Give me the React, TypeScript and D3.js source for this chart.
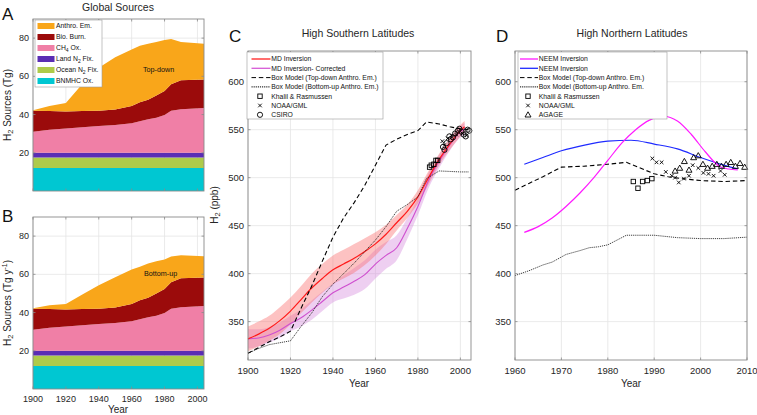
import React from 'react';
import * as d3 from 'd3';

const FONT = "'Liberation Sans', Arial, Helvetica, sans-serif";

// ---------- Panels A / B : global H2 sources (Tg / yr) ----------
const srcYears = [1900, 1910, 1920, 1930, 1940, 1950, 1960, 1965, 1970, 1975, 1980, 1984, 1990, 2004];
const bnmhcOx = [12, 12, 12, 12, 12, 12, 12, 12, 12, 12, 12, 12, 12, 12];
const oceanN2Fix = [5.5, 5.5, 5.5, 5.5, 5.5, 5.5, 5.5, 5.5, 5.5, 5.5, 5.5, 5.5, 5.5, 5.5];
const landN2Fix = [2.5, 2.5, 2.5, 2.5, 2.5, 2.5, 2.5, 2.5, 2.5, 2.5, 2.5, 2.5, 2.5, 2.5];
const ch4Ox = [11, 12, 12.7, 13.4, 14, 14.6, 15.5, 16.5, 17.5, 18.3, 19.8, 22, 22.8, 23.4];
const bioBurn = [11, 9.8, 8.9, 8.4, 8, 8, 9, 10, 10.3, 11.7, 12.5, 13.8, 15.2, 15];
const anthroTopDown = [0.3, 2.7, 4.4, 14.2, 22.5, 27.4, 29.5, 29.5, 29.2, 28, 26.7, 23.7, 20, 18.6];
const anthroBottomUp = [0.3, 2, 2.9, 7.7, 12.3, 15.9, 18, 17.5, 17.9, 16.8, 15.5, 13.5, 12, 11];

const srcKeys = ['bnmhc', 'ocean', 'land', 'ch4', 'bio', 'anthro'];
const srcColors: Record<string, string> = {
  anthro: '#F9A61A',
  bio: '#9B0B0B',
  ch4: '#F07FA6',
  land: '#5A2DB4',
  ocean: '#AECB4A',
  bnmhc: '#00C7D2',
};
const srcLegend = [
  { key: 'anthro', label: ['Anthro. Em.'] },
  { key: 'bio', label: ['Bio. Burn.'] },
  { key: 'ch4', label: ['CH', '4', ' Ox.'] },
  { key: 'land', label: ['Land N', '2', ' Fix.'] },
  { key: 'ocean', label: ['Ocean N', '2', ' Fix.'] },
  { key: 'bnmhc', label: ['BNMHC Ox.'] },
];
const abXTicks = [1900, 1920, 1940, 1960, 1980, 2000];
const abYTicks = [20, 40, 60, 80];

// ---------- Panel C : high southern latitudes (ppb) ----------
const cYears = [1900, 1905, 1910, 1915, 1920, 1925, 1930, 1935, 1940, 1945, 1950, 1955, 1960, 1965, 1970, 1975, 1980, 1985, 1990, 1995, 2000, 2002];
const mdInversion = [332, 337, 343, 351, 361, 373, 385, 395, 404, 410, 416, 423, 431, 441, 453, 465, 480, 500, 519, 535, 549, 553];
const mdInversionUnc = [13, 13, 13, 14, 14, 14, 15, 15, 15, 15, 15, 14, 12, 10, 8, 7, 7, 7, 6, 6, 6, 6];
const mdCorrected = [332, 333, 336, 341, 348, 354, 362, 371, 380, 386, 392, 399, 410, 419, 427, 447, 470, 497, 517, 534, 548, 551];
const mdCorrectedUnc = [10, 9, 8, 8, 8, 9, 10, 10, 10, 12, 14, 15, 15, 14, 13, 11, 9, 8, 7, 6, 6, 6];
const cBoxYears = [1900, 1905, 1910, 1915, 1920, 1925, 1930, 1935, 1940, 1945, 1950, 1955, 1960, 1965, 1970, 1975, 1980, 1984, 1990, 1995, 2000, 2004];
const cBoxTopDown = [317, 323, 329, 334, 340, 364, 387, 413, 438, 458, 474, 492, 513, 534, 540, 545, 549, 558, 556, 553, 551, 550];
const cBoxBottomUp = [317, 322, 326, 328, 330, 345, 359, 376, 389, 400, 411, 423, 435, 449, 465, 472, 480, 499, 507, 506.5, 506, 506];
const cKhalilYears = [1985.5, 1986.3, 1987.5, 1988.5, 1989.3];
const cKhalilVals = [511, 513, 514, 518, 518];
const cNoaaYears = [1991.5, 1992.5, 1994, 1996, 1998, 2001, 2003];
const cNoaaVals = [538, 534, 541, 544, 545, 546, 544];
const cCsiroYears = [1991.8, 1992.5, 1993.5, 1994.8, 1995.5, 1996.5, 1997.5, 1998.8, 1999.5, 2000.5, 2001.5, 2002.5, 2003.4, 2004.2];
const cCsiroVals = [532, 529, 536, 543, 540, 542, 546, 549, 551, 548, 545, 543, 550, 549];

// ---------- Panel D : high northern latitudes (ppb) ----------
const dNeemYears1 = [1962, 1965, 1968, 1971, 1974, 1977, 1980, 1983, 1986, 1989, 1992, 1995, 1998, 2001, 2004, 2006, 2008];
const dNeem1 = [443, 449, 458, 470, 484, 500, 518, 536, 550, 560, 564, 559, 545, 527, 512, 509, 508];
const dNeemYears2 = [1962, 1966, 1970, 1975, 1980, 1985, 1990, 1995, 2000, 2005, 2008];
const dNeem2 = [514, 521, 528, 534, 538, 539, 535, 530, 521, 513, 509];
const dTdYears = [1960, 1963, 1966, 1970, 1975, 1980, 1984, 1987, 1990, 1993, 1996, 2000, 2005, 2010];
const dBoxTopDown = [487, 494, 501, 511, 512, 514, 516, 510, 504, 501, 499, 497, 496, 497];
const dBuYears = [1960, 1963, 1966, 1968, 1971, 1974, 1976, 1978, 1980, 1982, 1984, 1990, 1995, 2000, 2005, 2010];
const dBoxBottomUp = [398, 403, 409, 412, 420, 424, 427, 428, 430, 435, 440, 440, 437.5, 436.5, 436.5, 438];
const dKhalilYears = [1985.5, 1986.5, 1987.5, 1988.5, 1989.5];
const dKhalilVals = [496, 489, 496, 497, 499];
const dNoaaYears = [1989.6, 1990.5, 1991.6, 1992.5, 1993.8, 1994.5, 1995.3, 1996.4, 1997.5, 1998.3, 1999.5, 2000.6, 2001.7, 2002.8, 2004.3, 2005.2];
const dNoaaVals = [520, 516, 516, 506, 502, 500, 495, 499, 502, 513, 510, 505, 504, 502, 507, 503];
const dAgageYears = [1994.5, 1995.5, 1996.5, 1997.5, 1998.5, 1999.5, 2000.5, 2001.5, 2002.5, 2003.5, 2004.5, 2005.5, 2006.5, 2007.5, 2008.5, 2009.5];
const dAgageVals = [507, 510, 517, 508, 521, 523, 514, 510, 512, 514, 512, 514, 516, 512, 515, 511];

const cxTicks = [1900, 1920, 1940, 1960, 1980, 2000];
const dxTicks = [1960, 1970, 1980, 1990, 2000, 2010];
const ppbTicks = [350, 400, 450, 500, 550, 600];

const AXIS = '#8a8a8a';
const GRID = '#e4e4e4';
const TXT = '#262626';

type Sc = d3.ScaleLinear<number, number>;

function Grid({ x, y, xTicks, yTicks }: { x: Sc; y: Sc; xTicks: number[]; yTicks: number[] }) {
  const [x0, x1] = x.range();
  const [y0, y1] = y.range();
  return (
    <g>
      {xTicks.map((t) => (
        <line key={'gx' + t} x1={x(t)} x2={x(t)} y1={y0} y2={y1} stroke={GRID} strokeWidth={0.8} />
      ))}
      {yTicks.map((t) => (
        <line key={'gy' + t} x1={x0} x2={x1} y1={y(t)} y2={y(t)} stroke={GRID} strokeWidth={0.8} />
      ))}
    </g>
  );
}

function Axes({ x, y, xTicks, yTicks, xLabels, fs, xLabelY }: { x: Sc; y: Sc; xTicks: number[]; yTicks: number[]; xLabels: boolean; fs: number; xLabelY: number }) {
  const [x0, x1] = x.range();
  const [y0, y1] = y.range();
  return (
    <g fontFamily={FONT}>
      <rect x={x0} y={y1} width={x1 - x0} height={y0 - y1} fill="none" stroke={AXIS} strokeWidth={0.9} />
      {xTicks.map((t) => (
        <g key={'tx' + t}>
          <line x1={x(t)} x2={x(t)} y1={y0} y2={y0 - 2.5} stroke={AXIS} strokeWidth={0.8} />
          <line x1={x(t)} x2={x(t)} y1={y1} y2={y1 + 2.5} stroke={AXIS} strokeWidth={0.8} />
          {xLabels && (
            <text x={x(t)} y={xLabelY} textAnchor="middle" fontSize={fs} fill={TXT}>
              {t}
            </text>
          )}
        </g>
      ))}
      {yTicks.map((t) => (
        <g key={'ty' + t}>
          <line x1={x0} x2={x0 + 2.5} y1={y(t)} y2={y(t)} stroke={AXIS} strokeWidth={0.8} />
          <line x1={x1} x2={x1 - 2.5} y1={y(t)} y2={y(t)} stroke={AXIS} strokeWidth={0.8} />
          <text x={x0 - 4} y={y(t)} dy="0.35em" textAnchor="end" fontSize={fs} fill={TXT}>
            {t}
          </text>
        </g>
      ))}
    </g>
  );
}

function SourcesPanel({ top, anthro, label, labelX, labelY, legend }: { top: number; anthro: number[]; label: string; labelX: number; labelY: number; legend: boolean }) {
  const x = d3.scaleLinear().domain([1900, 2004]).range([33, 204]);
  const y = d3.scaleLinear().domain([0, 90]).range([top + 172, top]);
  const rows = srcYears.map((yr, i) => ({
    year: yr,
    bnmhc: bnmhcOx[i],
    ocean: oceanN2Fix[i],
    land: landN2Fix[i],
    ch4: ch4Ox[i],
    bio: bioBurn[i],
    anthro: anthro[i],
  }));
  const series = d3.stack<any>().keys(srcKeys)(rows);
  const area = d3
    .area<any>()
    .x((d) => x(d.data.year))
    .y0((d) => y(d[0]))
    .y1((d) => y(d[1]));
  return (
    <g>
      <Grid x={x} y={y} xTicks={abXTicks} yTicks={abYTicks} />
      {series.map((s) => (
        <path key={s.key} d={area(s) || ''} fill={srcColors[s.key]} stroke="none" />
      ))}
      <Axes x={x} y={y} xTicks={abXTicks} yTicks={abYTicks} xLabels={!legend} fs={9} xLabelY={402} />
      <text x={labelX} y={labelY} fontFamily={FONT} fontSize={7.2} fill="#111">
        {label}
      </text>
      {legend && (
        <g fontFamily={FONT}>
          <rect x={35} y={20} width={67} height={67} fill="#fff" stroke="#9a9a9a" strokeWidth={0.6} />
          {srcLegend.map((e, i) => {
            const cy = 26 + i * 11;
            return (
              <g key={e.key}>
                <rect x={37.5} y={cy - 3} width={17} height={6} fill={srcColors[e.key]} />
                <text x={56} y={cy} dy="0.35em" fontSize={6.8} fill="#111">
                  {e.label[0]}
                  {e.label.length > 1 && (
                    <tspan fontSize={5} dy="1.8">
                      {e.label[1]}
                    </tspan>
                  )}
                  {e.label.length > 2 && <tspan dy="-1.8">{e.label[2]}</tspan>}
                </text>
              </g>
            );
          })}
        </g>
      )}
    </g>
  );
}

function Marker({ kind, cx, cy }: { kind: string; cx: number; cy: number }) {
  const s = 2.2;
  if (kind === 'square')
    return <rect x={cx - s} y={cy - s} width={2 * s} height={2 * s} fill="none" stroke="#000" strokeWidth={0.9} />;
  if (kind === 'circle') return <circle cx={cx} cy={cy} r={2.6} fill="none" stroke="#000" strokeWidth={0.9} />;
  if (kind === 'x')
    return (
      <path d={`M${cx - 1.8},${cy - 1.8}L${cx + 1.8},${cy + 1.8}M${cx - 1.8},${cy + 1.8}L${cx + 1.8},${cy - 1.8}`} stroke="#000" strokeWidth={0.9} />
    );
  return <path d={`M${cx},${cy - 3}L${cx + 3},${cy + 2.2}L${cx - 3},${cy + 2.2}Z`} fill="none" stroke="#000" strokeWidth={0.9} />;
}

const ppbDomain = [310, 632];

function lineOf(x: Sc, y: Sc, xs: number[], ys: number[], curve: any) {
  return (
    d3
      .line<number>()
      .x((_, i) => x(xs[i]))
      .y((v) => y(v))
      .curve(curve)(ys) || ''
  );
}

function bandOf(x: Sc, y: Sc, xs: number[], ys: number[], err: number[]) {
  return (
    d3
      .area<number>()
      .x((_, i) => x(xs[i]))
      .y0((v, i) => y(v - err[i]))
      .y1((v, i) => y(v + err[i]))
      .curve(d3.curveMonotoneX)(ys) || ''
  );
}

const DASH = '4.5,2.8';
const DOT = '1.2,0.9';

function LegendEntry({ x, y, kind, color, dash, text, width }: any) {
  return (
    <g>
      {kind === 'line' ? (
        <line x1={x} x2={x + width} y1={y} y2={y} stroke={color} strokeWidth={dash ? 1 : 1.3} strokeDasharray={dash || undefined} />
      ) : (
        <Marker kind={kind} cx={x + width / 2 - 1} cy={y} />
      )}
      <text x={x + width + 0.8} y={y} dy="0.35em" fontSize={6.8} fill="#111" fontFamily={FONT}>
        {text}
      </text>
    </g>
  );
}

function PanelC() {
  const x = d3.scaleLinear().domain([1900, 2005]).range([248, 471]);
  const y = d3.scaleLinear().domain(ppbDomain).range([360, 51]);
  const legendRows = [
    { kind: 'line', color: '#ff2020', text: 'MD Inversion' },
    { kind: 'line', color: '#d65bd6', text: 'MD Inversion- Corrected' },
    { kind: 'line', color: '#000', dash: DASH, text: 'Box Model (Top-down Anthro. Em.)' },
    { kind: 'line', color: '#000', dash: DOT, text: 'Box Model (Bottom-up Anthro. Em.)' },
    { kind: 'square', text: 'Khalil & Rasmussen' },
    { kind: 'x', text: 'NOAA/GML' },
    { kind: 'circle', text: 'CSIRO' },
  ];
  return (
    <g>
      <Grid x={x} y={y} xTicks={cxTicks} yTicks={ppbTicks} />
      <path d={bandOf(x, y, cYears, mdCorrected, mdCorrectedUnc)} fill="rgba(214,140,222,0.42)" />
      <path d={bandOf(x, y, cYears, mdInversion, mdInversionUnc)} fill="rgba(250,110,110,0.42)" />
      <path d={lineOf(x, y, cYears, mdCorrected, d3.curveMonotoneX)} fill="none" stroke="#cf4fcf" strokeWidth={1.1} />
      <path d={lineOf(x, y, cYears, mdInversion, d3.curveMonotoneX)} fill="none" stroke="#ff1a1a" strokeWidth={1.2} />
      <path d={lineOf(x, y, cBoxYears, cBoxTopDown, d3.curveLinear)} fill="none" stroke="#000" strokeWidth={1.1} strokeDasharray={DASH} />
      <path d={lineOf(x, y, cBoxYears, cBoxBottomUp, d3.curveLinear)} fill="none" stroke="#111" strokeWidth={0.8} strokeDasharray={DOT} />
      {cKhalilYears.map((yr, i) => (
        <Marker key={'k' + i} kind="square" cx={x(yr)} cy={y(cKhalilVals[i])} />
      ))}
      {cNoaaYears.map((yr, i) => (
        <Marker key={'n' + i} kind="x" cx={x(yr)} cy={y(cNoaaVals[i])} />
      ))}
      {cCsiroYears.map((yr, i) => (
        <Marker key={'c' + i} kind="circle" cx={x(yr)} cy={y(cCsiroVals[i])} />
      ))}
      <Axes x={x} y={y} xTicks={cxTicks} yTicks={ppbTicks} xLabels fs={9.5} xLabelY={374} />
      <rect x={247} y={52} width={136} height={67} fill="#fff" stroke="#9a9a9a" strokeWidth={0.6} />
      {legendRows.map((r, i) => (
        <LegendEntry key={i} x={251.5} y={59 + i * 9.3} width={19} {...r} />
      ))}
    </g>
  );
}

function PanelD() {
  const x = d3.scaleLinear().domain([1960, 2010]).range([515, 747]);
  const y = d3.scaleLinear().domain(ppbDomain).range([360, 51]);
  const legendRows = [
    { kind: 'line', color: '#ff1aff', text: 'NEEM Inversion' },
    { kind: 'line', color: '#1f2bff', text: 'NEEM Inversion' },
    { kind: 'line', color: '#000', dash: DASH, text: 'Box Model (Top-down Anthro. Em.)' },
    { kind: 'line', color: '#000', dash: DOT, text: 'Box Model (Bottom-up Anthro. Em.' },
    { kind: 'square', text: 'Khalil & Rasmussen' },
    { kind: 'x', text: 'NOAA/GML' },
    { kind: 'tri', text: 'AGAGE' },
  ];
  return (
    <g>
      <Grid x={x} y={y} xTicks={dxTicks} yTicks={ppbTicks} />
      <path d={lineOf(x, y, dTdYears, dBoxTopDown, d3.curveLinear)} fill="none" stroke="#000" strokeWidth={1.1} strokeDasharray={DASH} />
      <path d={lineOf(x, y, dBuYears, dBoxBottomUp, d3.curveLinear)} fill="none" stroke="#111" strokeWidth={0.8} strokeDasharray={DOT} />
      <path d={lineOf(x, y, dNeemYears2, dNeem2, d3.curveMonotoneX)} fill="none" stroke="#1f2bff" strokeWidth={1.2} />
      <path d={lineOf(x, y, dNeemYears1, dNeem1, d3.curveMonotoneX)} fill="none" stroke="#ff1aff" strokeWidth={1.2} />
      {dKhalilYears.map((yr, i) => (
        <Marker key={'k' + i} kind="square" cx={x(yr)} cy={y(dKhalilVals[i])} />
      ))}
      {dNoaaYears.map((yr, i) => (
        <Marker key={'n' + i} kind="x" cx={x(yr)} cy={y(dNoaaVals[i])} />
      ))}
      {dAgageYears.map((yr, i) => (
        <Marker key={'a' + i} kind="tri" cx={x(yr)} cy={y(dAgageVals[i])} />
      ))}
      <Axes x={x} y={y} xTicks={dxTicks} yTicks={ppbTicks} xLabels fs={9.5} xLabelY={374} />
      <rect x={518} y={52} width={149} height={67} fill="#fff" stroke="#9a9a9a" strokeWidth={0.6} />
      {legendRows.map((r, i) => (
        <LegendEntry key={i} x={520} y={59 + i * 9.3} width={18} {...r} />
      ))}
    </g>
  );
}

export default function App() {
  return (
    <svg width={757} height={415} style={{ position: 'absolute', left: 0, top: 0, background: '#fff' }} fontFamily={FONT}>
      <rect width={757} height={415} fill="#fff" />
      <SourcesPanel top={19} anthro={anthroTopDown} label="Top-down" labelX={143} labelY={72} legend />
      <SourcesPanel top={217} anthro={anthroBottomUp} label="Bottom-up" labelX={144} labelY={276} legend={false} />
      <PanelC />
      <PanelD />

      {/* panel letters */}
      <text x={2} y={20} fontSize={17} fill="#111">A</text>
      <text x={2} y={222} fontSize={17} fill="#111">B</text>
      <text x={229} y={42} fontSize={17} fill="#111">C</text>
      <text x={496} y={42} fontSize={17} fill="#111">D</text>

      {/* titles */}
      <text x={118} y={11} textAnchor="middle" fontSize={10.5} fill={TXT}>Global Sources</text>
      <text x={358} y={37} textAnchor="middle" fontSize={10.5} fill={TXT}>High Southern Latitudes</text>
      <text x={632} y={37} textAnchor="middle" fontSize={10.5} fill={TXT}>High Northern Latitudes</text>

      {/* axis labels */}
      <text transform="translate(11,105) rotate(-90)" textAnchor="middle" fontSize={10} fill={TXT}>
        H<tspan fontSize={7.5} dy={2}>2</tspan><tspan dy={-2}> Sources (Tg)</tspan>
      </text>
      <text transform="translate(11,303) rotate(-90)" textAnchor="middle" fontSize={10} fill={TXT}>
        H<tspan fontSize={7.5} dy={2}>2</tspan><tspan dy={-2}> Sources (Tg y</tspan><tspan fontSize={7} dy={-4}>-1</tspan><tspan dy={4}>)</tspan>
      </text>
      <text transform="translate(218,205) rotate(-90)" textAnchor="middle" fontSize={10} fill={TXT}>
        H<tspan fontSize={7.5} dy={2}>2</tspan><tspan dy={-2}> (ppb)</tspan>
      </text>
      <text x={118} y={413} textAnchor="middle" fontSize={10} fill={TXT}>Year</text>
      <text x={359} y={387} textAnchor="middle" fontSize={10} fill={TXT}>Year</text>
      <text x={631} y={387} textAnchor="middle" fontSize={10} fill={TXT}>Year</text>
    </svg>
  );
}
